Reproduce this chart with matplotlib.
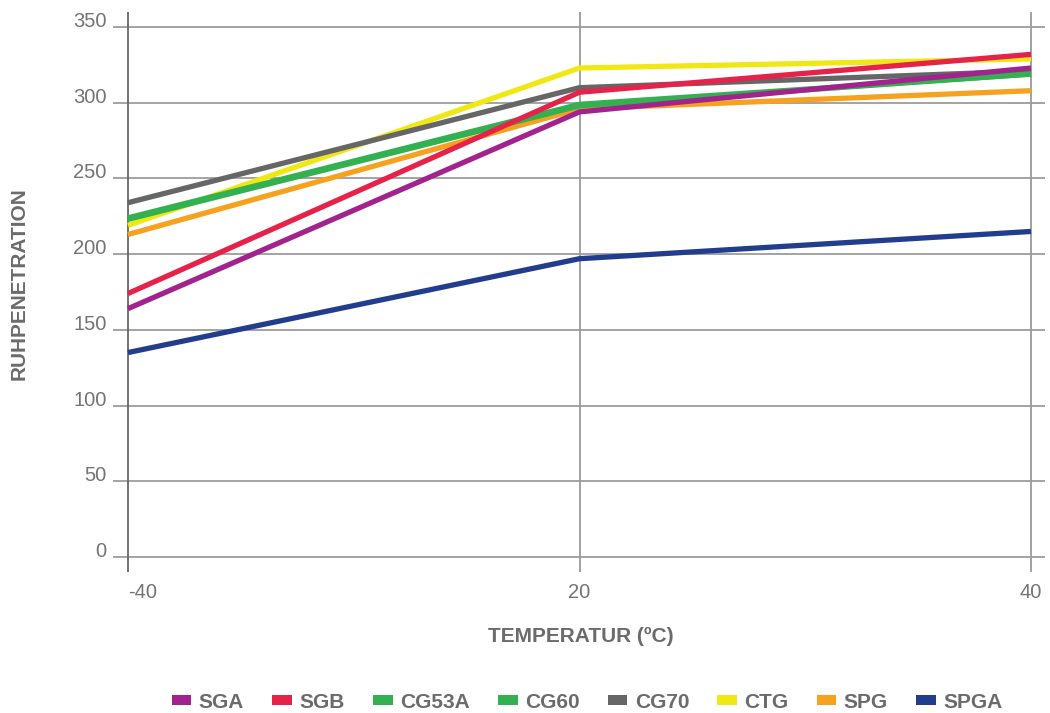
import matplotlib
matplotlib.use("Agg")
import matplotlib.pyplot as plt
from matplotlib.patches import Patch

# ---- data ----
temperatures = ["-40", "20", "40"]
SGA = [164, 294, 323]
SGB = [174, 307, 332]
CG53A = [223, 298, 319]
CG60 = [224, 299, 319]
CG70 = [234, 310, 321]
CTG = [219, 323, 329]
SPG = [213, 296, 308]
SPGA = [135, 197, 215]

series_names = ["SGA", "SGB", "CG53A", "CG60", "CG70", "CTG", "SPG", "SPGA"]
series_values = [SGA, SGB, CG53A, CG60, CG70, CTG, SPG, SPGA]
series_colors = ["#a3238e", "#e6224b", "#33b04f", "#33b04f", "#666666",
                 "#f0e814", "#f7a21e", "#223d8e"]
y_ticks = [0, 50, 100, 150, 200, 250, 300, 350]

plt.rcParams['font.family'] = ['Liberation Sans', 'DejaVu Sans']
text_gray = "#6b6b6b"
tick_gray = "#747474"

fig = plt.figure(figsize=(10.5, 7.13), dpi=100)
ax = fig.add_axes([113/1050, 1-572/713, (1045-113)/1050, (572-12)/713])

xpos = list(range(len(temperatures)))
ax.set_xlim(-15/451.5, 2 + 14/451.5)
ax.set_ylim(-10, 360)

for spine in ax.spines.values():
    spine.set_visible(False)

# gridlines
for y in y_ticks:
    ax.axhline(y, color="#8a8a8a", lw=1.1, zorder=1)
for i, x in enumerate(xpos):
    ax.axvline(x, color="#666666" if i == 0 else "#9a9a9a", lw=1.3, zorder=1)

# lines (drawn in reverse legend order)
for name, vals, col in reversed(list(zip(series_names, series_values, series_colors))):
    ax.plot(xpos, vals, color=col, lw=3.8, solid_capstyle='butt', zorder=3)

ax.set_yticks(y_ticks)
ax.set_yticklabels([str(v) for v in y_ticks])
ax.tick_params(axis='y', length=0, pad=4.5, labelsize=14.5, labelcolor=tick_gray)
for lab in ax.get_yticklabels():
    lab.set_va('baseline')

ax.set_xticks(xpos)
ax.set_xticklabels(temperatures)
ax.tick_params(axis='x', length=0, pad=8, labelsize=14.5, labelcolor=tick_gray)
ax.get_xticklabels()[0].set_ha('left')

fig.text(581/1050, 1-636/713, "TEMPERATUR (ºC)", ha='center', va='center',
         fontsize=15, fontweight='bold', color=text_gray)
fig.text(19/1050, 1-284/713, "RUHPENETRATION", ha='center', va='center',
         rotation=90, fontsize=15, fontweight='bold', color=text_gray)

handles = [Patch(facecolor=c, edgecolor='none', label=n)
           for n, c in zip(series_names, series_colors)]
leg = fig.legend(handles=handles, loc='center', bbox_to_anchor=(587/1050, 1-702/713),
                 ncol=8, frameon=False, fontsize=15, handlelength=0.95,
                 handleheight=0.4, handletextpad=0.35, columnspacing=1.35,
                 borderpad=0, borderaxespad=0)
for t in leg.get_texts():
    t.set_color(text_gray)
    t.set_fontweight('bold')

fig.savefig("out.png", dpi=100)
